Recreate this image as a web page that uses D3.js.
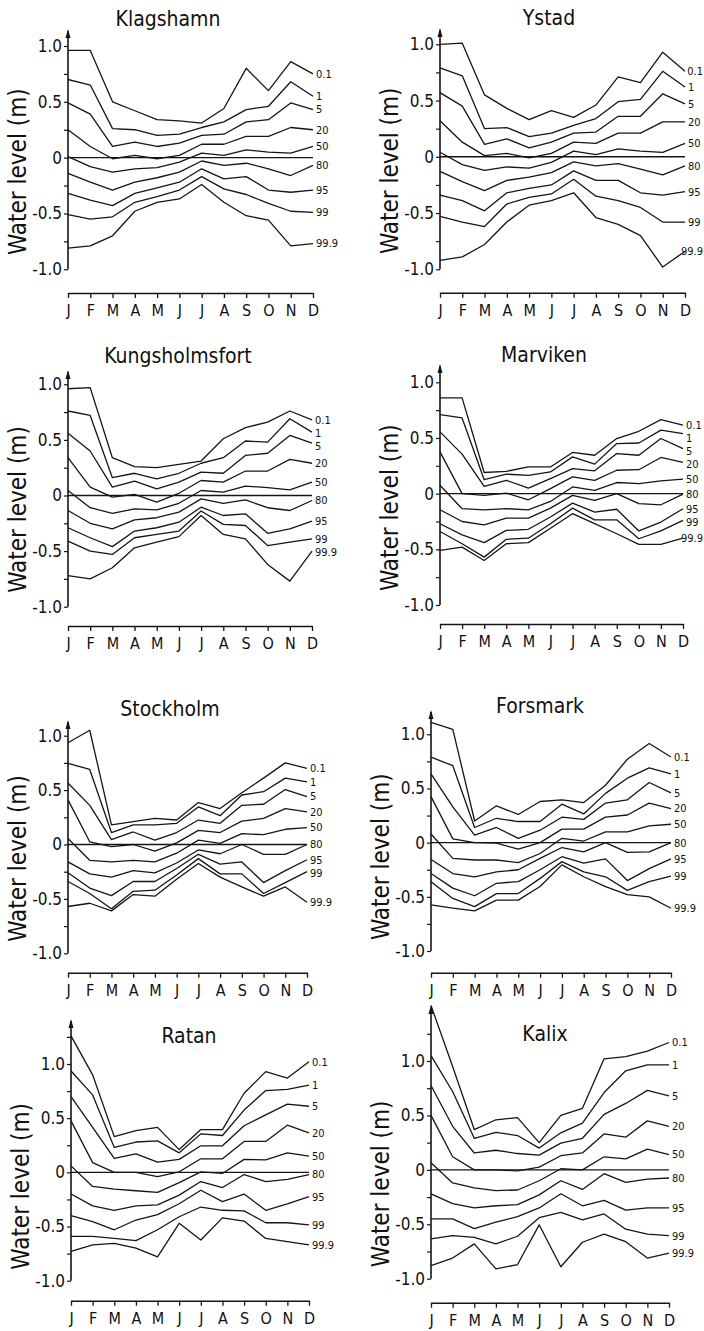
<!DOCTYPE html>
<html>
<head>
<meta charset="utf-8">
<script src="https://cdn.jsdelivr.net/npm/d3@7"></script>
<style>
  body { margin: 0; background: #fff; }
  text { fill: #111; font-family: "DejaVu Sans Condensed", "Liberation Sans Narrow", "DejaVu Sans", sans-serif; }
</style>
</head>
<body>
<script>
// month initials along the x axis
var months = ["J", "F", "M", "A", "M", "J", "J", "A", "S", "O", "N", "D"];
// exceedance percentiles, one line each, top to bottom
var levels = ["0.1", "1", "5", "20", "50", "80", "95", "99", "99.9"];
var stations = ["Klagshamn", "Ystad", "Kungsholmsfort", "Marviken", "Stockholm", "Forsmark", "Ratan", "Kalix"];
var yLabelTicks = [-1, -0.5, 0, 0.5, 1];

// water level (m) per month, one row per percentile
var klagshamn = [
  [0.96, 0.96, 0.50, 0.42, 0.34, 0.33, 0.31, 0.44, 0.80, 0.60, 0.86, 0.75],
  [0.70, 0.65, 0.26, 0.25, 0.20, 0.21, 0.27, 0.32, 0.43, 0.46, 0.68, 0.55],
  [0.49, 0.39, 0.10, 0.14, 0.10, 0.13, 0.20, 0.21, 0.32, 0.34, 0.49, 0.43],
  [0.25, 0.10, -0.01, 0.02, -0.01, 0.02, 0.12, 0.12, 0.19, 0.19, 0.27, 0.25],
  [0.01, -0.08, -0.13, -0.10, -0.09, -0.04, 0.04, 0.02, 0.07, 0.05, 0.04, 0.10],
  [-0.14, -0.22, -0.29, -0.22, -0.18, -0.13, -0.03, -0.07, -0.05, -0.10, -0.16, -0.07],
  [-0.32, -0.38, -0.43, -0.32, -0.27, -0.22, -0.10, -0.19, -0.17, -0.29, -0.31, -0.29],
  [-0.51, -0.55, -0.53, -0.40, -0.35, -0.29, -0.17, -0.28, -0.33, -0.41, -0.48, -0.49],
  [-0.81, -0.79, -0.70, -0.48, -0.40, -0.37, -0.24, -0.40, -0.52, -0.56, -0.79, -0.77]
];
var ystad = [
  [1.00, 1.01, 0.55, 0.43, 0.33, 0.41, 0.35, 0.46, 0.71, 0.66, 0.93, 0.76],
  [0.79, 0.72, 0.25, 0.26, 0.18, 0.21, 0.28, 0.34, 0.49, 0.51, 0.76, 0.62],
  [0.57, 0.45, 0.11, 0.16, 0.08, 0.13, 0.21, 0.22, 0.36, 0.36, 0.56, 0.47],
  [0.32, 0.13, 0.01, 0.03, -0.01, 0.03, 0.13, 0.12, 0.21, 0.21, 0.31, 0.31],
  [0.04, -0.07, -0.12, -0.09, -0.10, -0.05, 0.05, 0.02, 0.07, 0.05, 0.04, 0.12],
  [-0.13, -0.22, -0.30, -0.21, -0.18, -0.14, -0.045, -0.08, -0.06, -0.11, -0.16, -0.08],
  [-0.34, -0.39, -0.48, -0.32, -0.28, -0.25, -0.125, -0.21, -0.21, -0.32, -0.34, -0.31],
  [-0.53, -0.58, -0.62, -0.42, -0.36, -0.33, -0.20, -0.35, -0.39, -0.45, -0.58, -0.58],
  [-0.92, -0.89, -0.78, -0.58, -0.43, -0.39, -0.32, -0.54, -0.60, -0.70, -0.98, -0.84]
];
var kungsholmsfort = [
  [0.96, 0.97, 0.34, 0.26, 0.25, 0.28, 0.31, 0.51, 0.61, 0.66, 0.76, 0.68],
  [0.76, 0.72, 0.16, 0.20, 0.15, 0.20, 0.29, 0.34, 0.49, 0.48, 0.69, 0.57],
  [0.56, 0.40, 0.075, 0.13, 0.06, 0.12, 0.21, 0.20, 0.36, 0.38, 0.54, 0.47],
  [0.34, 0.075, -0.015, 0.01, -0.06, 0.02, 0.135, 0.12, 0.22, 0.22, 0.325, 0.29],
  [0.045, -0.11, -0.16, -0.12, -0.13, -0.07, 0.045, 0.03, 0.085, 0.07, 0.05, 0.12],
  [-0.135, -0.25, -0.30, -0.22, -0.20, -0.15, -0.03, -0.07, -0.04, -0.11, -0.135, -0.045],
  [-0.29, -0.38, -0.46, -0.32, -0.29, -0.24, -0.105, -0.18, -0.165, -0.34, -0.30, -0.23],
  [-0.41, -0.50, -0.53, -0.38, -0.35, -0.32, -0.14, -0.26, -0.27, -0.45, -0.42, -0.39],
  [-0.72, -0.75, -0.65, -0.47, -0.42, -0.37, -0.18, -0.35, -0.39, -0.62, -0.77, -0.50]
];
var marviken = [
  [0.86, 0.86, 0.19, 0.20, 0.24, 0.24, 0.37, 0.345, 0.495, 0.56, 0.665, 0.615],
  [0.71, 0.68, 0.125, 0.175, 0.165, 0.195, 0.33, 0.265, 0.45, 0.455, 0.57, 0.54],
  [0.555, 0.355, 0.065, 0.12, 0.05, 0.135, 0.225, 0.205, 0.36, 0.345, 0.495, 0.405],
  [0.375, 0.0, -0.015, 0.005, -0.055, 0.045, 0.15, 0.12, 0.21, 0.215, 0.325, 0.28],
  [0.075, -0.135, -0.145, -0.135, -0.145, -0.07, 0.06, 0.03, 0.10, 0.09, 0.115, 0.13],
  [-0.145, -0.25, -0.28, -0.22, -0.22, -0.13, -0.015, -0.06, 0.0, -0.09, -0.10, -0.005],
  [-0.27, -0.37, -0.44, -0.33, -0.32, -0.21, -0.085, -0.165, -0.14, -0.335, -0.255, -0.135],
  [-0.34, -0.45, -0.57, -0.41, -0.40, -0.27, -0.13, -0.235, -0.235, -0.405, -0.335, -0.24],
  [-0.51, -0.48, -0.60, -0.45, -0.44, -0.31, -0.18, -0.27, -0.36, -0.455, -0.455, -0.40]
];
var stockholm = [
  [0.935, 1.05, 0.18, 0.21, 0.24, 0.225, 0.385, 0.33, 0.475, 0.61, 0.75, 0.70],
  [0.745, 0.69, 0.11, 0.18, 0.18, 0.195, 0.345, 0.265, 0.455, 0.485, 0.61, 0.575],
  [0.565, 0.36, 0.045, 0.115, 0.04, 0.11, 0.225, 0.195, 0.36, 0.37, 0.505, 0.44],
  [0.41, 0.025, -0.02, 0.0, -0.06, 0.015, 0.13, 0.11, 0.215, 0.24, 0.33, 0.30],
  [0.055, -0.145, -0.16, -0.145, -0.16, -0.08, 0.04, 0.01, 0.10, 0.09, 0.14, 0.155],
  [-0.16, -0.27, -0.30, -0.24, -0.26, -0.17, -0.05, -0.085, 0.0, -0.09, -0.09, 0.0],
  [-0.26, -0.40, -0.47, -0.34, -0.34, -0.22, -0.09, -0.18, -0.16, -0.35, -0.24, -0.14],
  [-0.34, -0.45, -0.59, -0.43, -0.42, -0.28, -0.13, -0.27, -0.27, -0.45, -0.35, -0.25],
  [-0.57, -0.54, -0.61, -0.46, -0.475, -0.32, -0.175, -0.30, -0.39, -0.475, -0.39, -0.53]
];
var forsmark = [
  [1.11, 1.045, 0.20, 0.34, 0.26, 0.38, 0.395, 0.37, 0.53, 0.77, 0.915, 0.79],
  [0.79, 0.71, 0.14, 0.225, 0.195, 0.195, 0.355, 0.265, 0.455, 0.595, 0.69, 0.635],
  [0.635, 0.33, 0.07, 0.14, 0.04, 0.115, 0.235, 0.215, 0.365, 0.395, 0.555, 0.46],
  [0.425, 0.035, 0.0, -0.005, -0.06, 0.0, 0.125, 0.125, 0.235, 0.255, 0.365, 0.315],
  [0.08, -0.145, -0.16, -0.16, -0.185, -0.10, 0.04, 0.015, 0.10, 0.10, 0.155, 0.17],
  [-0.155, -0.285, -0.315, -0.27, -0.25, -0.145, -0.045, -0.085, 0.0, -0.09, -0.085, 0.0],
  [-0.285, -0.42, -0.49, -0.375, -0.36, -0.25, -0.13, -0.19, -0.15, -0.35, -0.24, -0.15],
  [-0.36, -0.515, -0.59, -0.47, -0.47, -0.33, -0.175, -0.27, -0.315, -0.44, -0.36, -0.31],
  [-0.575, -0.605, -0.63, -0.53, -0.53, -0.405, -0.205, -0.315, -0.405, -0.48, -0.50, -0.605]
];
var ratan = [
  [1.26, 0.90, 0.33, 0.385, 0.415, 0.21, 0.395, 0.395, 0.73, 0.93, 0.87, 1.02],
  [0.935, 0.715, 0.23, 0.28, 0.29, 0.18, 0.355, 0.34, 0.575, 0.755, 0.765, 0.805],
  [0.70, 0.415, 0.13, 0.17, 0.095, 0.12, 0.245, 0.245, 0.43, 0.53, 0.63, 0.61],
  [0.475, 0.09, 0.0, 0.0, -0.04, 0.005, 0.125, 0.125, 0.285, 0.285, 0.435, 0.365],
  [0.06, -0.13, -0.155, -0.17, -0.185, -0.095, 0.005, -0.01, 0.12, 0.115, 0.18, 0.15],
  [-0.20, -0.31, -0.35, -0.31, -0.30, -0.21, -0.085, -0.14, -0.02, -0.085, -0.065, -0.02],
  [-0.40, -0.455, -0.53, -0.44, -0.39, -0.29, -0.165, -0.27, -0.20, -0.35, -0.29, -0.225],
  [-0.59, -0.59, -0.61, -0.63, -0.53, -0.41, -0.32, -0.35, -0.355, -0.465, -0.465, -0.485],
  [-0.73, -0.67, -0.655, -0.70, -0.78, -0.47, -0.625, -0.42, -0.45, -0.61, -0.64, -0.67]
];
var kalix = [
  [1.51, 0.95, 0.37, 0.46, 0.48, 0.25, 0.50, 0.565, 1.02, 1.04, 1.09, 1.17],
  [1.05, 0.72, 0.29, 0.345, 0.315, 0.20, 0.34, 0.43, 0.71, 0.91, 0.965, 0.965],
  [0.775, 0.40, 0.155, 0.18, 0.15, 0.135, 0.245, 0.29, 0.51, 0.61, 0.73, 0.68],
  [0.50, 0.12, 0.0, 0.0, -0.01, 0.025, 0.13, 0.155, 0.33, 0.30, 0.45, 0.40],
  [0.065, -0.12, -0.165, -0.19, -0.185, -0.10, 0.01, 0.0, 0.12, 0.10, 0.19, 0.14],
  [-0.22, -0.31, -0.35, -0.33, -0.32, -0.23, -0.10, -0.18, -0.035, -0.115, -0.085, -0.075],
  [-0.45, -0.45, -0.54, -0.48, -0.43, -0.35, -0.22, -0.33, -0.28, -0.37, -0.35, -0.35],
  [-0.635, -0.605, -0.62, -0.68, -0.61, -0.44, -0.39, -0.46, -0.405, -0.545, -0.59, -0.605],
  [-0.88, -0.81, -0.68, -0.91, -0.87, -0.505, -0.89, -0.665, -0.59, -0.66, -0.81, -0.765]
];

var stationData = [klagshamn, ystad, kungsholmsfort, marviken, stockholm, forsmark, ratan, kalix];

// where each small chart sits on the page
var panels = [
  {x0: 68,  x1: 313, yTop: 46,   yBot: 269.3,  arrowTop: 29,   axisY: 293,   tx: 168, ty: 26},
  {x0: 440, x1: 685, yTop: 44.3, yBot: 269.3,  arrowTop: 28,   axisY: 292.7, tx: 549, ty: 25},
  {x0: 68,  x1: 312, yTop: 384.3, yBot: 606.7, arrowTop: 370,  axisY: 626,   tx: 178, ty: 363},
  {x0: 440, x1: 683, yTop: 382.3, yBot: 605,   arrowTop: 364,  axisY: 624,   tx: 544, ty: 362},
  {x0: 68,  x1: 307, yTop: 735.7, yBot: 953.3, arrowTop: 720,  axisY: 972.7, tx: 170, ty: 716},
  {x0: 431, x1: 671, yTop: 734.3, yBot: 951,   arrowTop: 710,  axisY: 972.7, tx: 540, ty: 713},
  {x0: 71,  x1: 309, yTop: 1064,  yBot: 1280.7, arrowTop: 1019, axisY: 1300.7, tx: 189, ty: 1043},
  {x0: 431, x1: 669, yTop: 1061,  yBot: 1278.7, arrowTop: 1005, axisY: 1302.7, tx: 545, ty: 1041}
];

var ink = "#151515";
var labelGap = 13;

var svg = d3.select("body").append("svg")
    .attr("width", 704)
    .attr("height", 1331);

function fmtY(d) {
    if (d === 0) return "0";
    return (d < 0 ? "-" : "") + Math.abs(d).toFixed(1);
}

panels.forEach(function(p, k) {
    var rows = stationData[k];
    var x = d3.scaleLinear().domain([0, 11]).range([p.x0, p.x1]);
    var y = d3.scaleLinear().domain([-1, 1]).range([p.yBot, p.yTop]);
    var g = svg.append("g");

    g.append("text")
        .attr("x", p.tx)
        .attr("y", p.ty)
        .attr("text-anchor", "middle")
        .style("font-size", "21px")
        .text(stations[k]);

    // y axis: ticks every 0.25, labels on the half metres
    var top = y.invert(p.arrowTop);
    var ticks = d3.range(-1, top - 0.1, 0.25);
    g.append("g")
        .attr("transform", "translate(" + p.x0 + ",0)")
        .call(d3.axisLeft(y)
            .tickValues(ticks)
            .tickSize(4)
            .tickPadding(2)
            .tickFormat(function(d) { return yLabelTicks.indexOf(d) >= 0 ? fmtY(d) : ""; }))
        .call(function(a) { a.select(".domain").remove(); })
        .call(function(a) {
            a.selectAll("line").attr("stroke", ink).attr("stroke-width", 1.2);
            a.selectAll("text").style("font-size", "17px").attr("fill", ink);
        });

    g.append("line")
        .attr("x1", p.x0).attr("x2", p.x0)
        .attr("y1", y(-1)).attr("y2", p.arrowTop + 2)
        .attr("stroke", ink).attr("stroke-width", 1.6);
    g.append("path")
        .attr("d", "M" + (p.x0 - 2.5) + "," + (p.arrowTop + 9) + "L" + p.x0 + "," + p.arrowTop + "L" + (p.x0 + 2.5) + "," + (p.arrowTop + 9) + "Z")
        .attr("fill", ink);

    g.append("text")
        .attr("transform", "translate(" + (p.x0 - 50) + "," + (y(0) + 14) + ") rotate(-90)")
        .attr("text-anchor", "middle")
        .attr("dy", "0.35em")
        .style("font-size", "24px")
        .text("Water level (m)");

    // month axis, drawn apart below the plot
    g.append("g")
        .attr("transform", "translate(0," + p.axisY + ")")
        .call(d3.axisBottom(x)
            .tickValues(d3.range(12))
            .tickSize(5)
            .tickSizeOuter(0)
            .tickPadding(7)
            .tickFormat(function(i) { return months[i]; }))
        .call(function(a) {
            a.select(".domain").attr("stroke", ink).attr("stroke-width", 1.6);
            a.selectAll("line").attr("stroke", ink).attr("stroke-width", 1.3);
            a.selectAll("text").style("font-size", "16px").attr("fill", ink);
        });

    g.append("line")
        .attr("x1", x(0)).attr("x2", x(11))
        .attr("y1", y(0)).attr("y2", y(0))
        .attr("stroke", ink).attr("stroke-width", 1.4);

    var line = d3.line()
        .x(function(d, i) { return x(i); })
        .y(function(d) { return y(d); });

    rows.forEach(function(vals) {
        g.append("path")
            .datum(vals)
            .attr("d", line)
            .attr("fill", "none")
            .attr("stroke", ink)
            .attr("stroke-width", 1.3)
            .attr("stroke-linejoin", "round");
    });

    // end labels, pushed apart where lines finish close together
    var ly = rows.map(function(vals) { return y(vals[11]); });
    for (var j = 1; j < ly.length; j++) {
        if (ly[j] < ly[j - 1] + labelGap) ly[j] = ly[j - 1] + labelGap;
    }
    levels.forEach(function(lab, j) {
        var t = g.append("text")
            .attr("x", x(11) + 3)
            .attr("y", ly[j])
            .attr("dy", "0.35em")
            .style("font-size", "11px")
            .text(lab);
        var w = t.node().getComputedTextLength();
        if (x(11) + 3 + w > 703) t.attr("x", 703 - w);
    });
});
</script>
</body>
</html>
